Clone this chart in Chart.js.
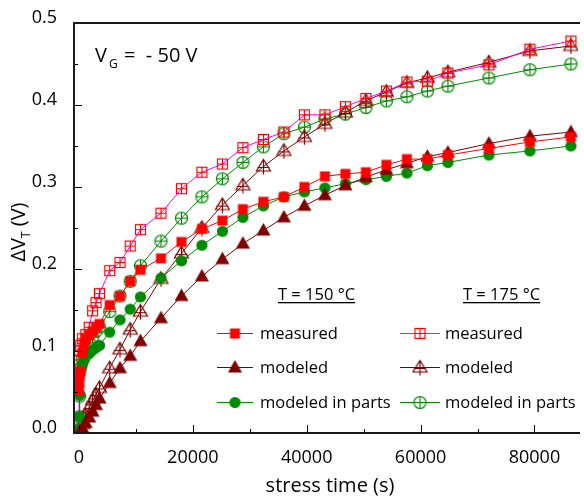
<!DOCTYPE html>
<html>
<head>
<meta charset="utf-8">
<script src="https://cdn.jsdelivr.net/npm/chart.js@4.4.0/dist/chart.umd.min.js"></script>
<style>
  html, body { margin: 0; padding: 0; background: #fff; overflow: hidden; }
  #wrap { position: relative; width: 584px; height: 498px; }
</style>
</head>
<body>
<div id="wrap"><canvas id="chart" width="584" height="498"></canvas></div>
<script>
// stress times (s) and threshold shift (V)
// T = 150 °C
var tMeas150 = [0, 60, 120, 300, 600, 900, 1200, 1800, 2400, 3000, 3600, 5400, 7200, 9000, 10800, 14400, 18000, 21600, 25200, 28800, 32400, 36000, 39600, 43200, 46800, 50400, 54000, 57600, 61200, 64800, 72000, 79200, 86400];
var vMeas150 = [0.052, 0.062, 0.070, 0.075, 0.098, 0.108, 0.115, 0.119, 0.124, 0.129, 0.133, 0.156, 0.167, 0.185, 0.199, 0.213, 0.233, 0.249, 0.259, 0.273, 0.282, 0.288, 0.300, 0.313, 0.316, 0.318, 0.327, 0.334, 0.334, 0.339, 0.347, 0.355, 0.361];

var tMod150 = [0, 600, 1200, 1800, 2400, 3000, 3600, 5400, 7200, 9000, 10800, 14400, 18000, 21600, 25200, 28800, 32400, 36000, 39600, 43200, 46800, 50400, 54000, 57600, 61200, 64800, 72000, 79200, 86400];
var vMod150 = [0, 0.006, 0.012, 0.019, 0.026, 0.034, 0.042, 0.061, 0.079, 0.094, 0.112, 0.140, 0.167, 0.191, 0.212, 0.231, 0.247, 0.263, 0.277, 0.290, 0.302, 0.312, 0.321, 0.329, 0.337, 0.342, 0.353, 0.362, 0.367];

var tParts150 = [0, 60, 120, 300, 600, 900, 1200, 1800, 2400, 3000, 3600, 5400, 7200, 9000, 10800, 14400, 18000, 21600, 25200, 28800, 32400, 36000, 39600, 43200, 46800, 50400, 54000, 57600, 61200, 64800, 72000, 79200, 86400];
var vParts150 = [0.005, 0.020, 0.046, 0.077, 0.084, 0.089, 0.093, 0.097, 0.101, 0.104, 0.107, 0.123, 0.138, 0.151, 0.166, 0.189, 0.210, 0.229, 0.246, 0.263, 0.277, 0.288, 0.294, 0.299, 0.304, 0.309, 0.313, 0.317, 0.326, 0.330, 0.339, 0.344, 0.350];

// T = 175 °C
var tMeas175 = [0, 60, 120, 300, 600, 1200, 1800, 2400, 3000, 3600, 5400, 7200, 9000, 10800, 14400, 18000, 21600, 25200, 28800, 32400, 36000, 39600, 43200, 46800, 50400, 54000, 57600, 61200, 64800, 72000, 79200, 86400];
var vMeas175 = [0.0, 0.089, 0.100, 0.107, 0.115, 0.120, 0.129, 0.149, 0.159, 0.170, 0.198, 0.208, 0.228, 0.248, 0.268, 0.298, 0.318, 0.328, 0.348, 0.358, 0.367, 0.388, 0.388, 0.398, 0.408, 0.417, 0.428, 0.429, 0.439, 0.449, 0.468, 0.478];

var tMod175 = [0, 600, 1200, 1800, 2400, 3000, 3600, 5400, 7200, 9000, 10800, 14400, 18000, 21600, 25200, 28800, 32400, 36000, 39600, 43200, 46800, 50400, 54000, 57600, 61200, 64800, 72000, 79200, 86400];
var vMod175 = [0, 0.011, 0.022, 0.031, 0.040, 0.047, 0.055, 0.079, 0.102, 0.126, 0.148, 0.188, 0.219, 0.250, 0.278, 0.302, 0.325, 0.344, 0.361, 0.377, 0.391, 0.405, 0.416, 0.427, 0.433, 0.440, 0.452, 0.466, 0.472];

var tParts175 = [0, 60, 120, 300, 600, 900, 1200, 1800, 2400, 3000, 3600, 5400, 7200, 9000, 10800, 14400, 18000, 21600, 25200, 28800, 32400, 36000, 39600, 43200, 46800, 50400, 54000, 57600, 61200, 64800, 72000, 79200, 86400];
var vParts175 = [0.005, 0.020, 0.045, 0.080, 0.090, 0.097, 0.103, 0.110, 0.117, 0.124, 0.129, 0.148, 0.167, 0.185, 0.204, 0.234, 0.262, 0.288, 0.310, 0.330, 0.349, 0.365, 0.373, 0.383, 0.389, 0.397, 0.405, 0.410, 0.417, 0.423, 0.433, 0.443, 0.450];

var seriesLabels = ["measured", "modeled", "modeled in parts"];
var groupLabels = ["T = 150 °C", "T = 175 °C"];

var xMajor = [0, 20000, 40000, 60000, 80000];
var xMinor = [10000, 30000, 50000, 70000];
var yMajor = [0, 0.1, 0.2, 0.3, 0.4, 0.5];
var yMinor = [0.05, 0.15, 0.25, 0.35, 0.45];

var FONT = "'Open Sans', 'Noto Sans', sans-serif";
var RED = "#ff0000", MAGENTA = "#ff00ff", DARKRED = "#800000", GREEN = "#008a00";

// marker images
function marker(kind, color) {
  var c = document.createElement("canvas");
  c.width = 17; c.height = 17;
  var g = c.getContext("2d");
  var m = 8.5;
  g.strokeStyle = color;
  g.fillStyle = color;
  g.lineWidth = 1.2;
  if (kind == "square") {
    g.fillRect(m - 5, m - 5, 10, 10);
  } else if (kind == "triangle") {
    g.beginPath();
    g.moveTo(m, m - 7.5);
    g.lineTo(m + 7, m + 5);
    g.lineTo(m - 7, m + 5);
    g.closePath();
    g.fill();
  } else if (kind == "circle") {
    g.beginPath();
    g.arc(m, m, 5.6, 0, Math.PI * 2);
    g.fill();
  } else if (kind == "squarePlus") {
    g.strokeRect(m - 5, m - 5, 10, 10);
    g.beginPath();
    g.moveTo(m - 5, m); g.lineTo(m + 5, m);
    g.moveTo(m, m - 5); g.lineTo(m, m + 5);
    g.stroke();
  } else if (kind == "trianglePlus") {
    g.beginPath();
    g.moveTo(m, m - 7);
    g.lineTo(m + 7, m + 4.5);
    g.lineTo(m - 7, m + 4.5);
    g.closePath();
    g.stroke();
    g.beginPath();
    g.moveTo(m, m - 7); g.lineTo(m, m + 8);
    g.moveTo(m - 6, m + 1); g.lineTo(m + 6, m + 1);
    g.stroke();
  } else if (kind == "circlePlus") {
    g.beginPath();
    g.arc(m, m, 6, 0, Math.PI * 2);
    g.stroke();
    g.beginPath();
    g.moveTo(m - 6, m); g.lineTo(m + 6, m);
    g.moveTo(m, m - 6); g.lineTo(m, m + 6);
    g.stroke();
  }
  return c;
}

function pts(t, v) {
  return t.map(function (x, i) { return { x: x, y: v[i] }; });
}

function series(t, v, lineColor, img) {
  return {
    data: pts(t, v),
    borderColor: lineColor,
    borderWidth: 1,
    pointStyle: img,
    pointRadius: 5,
    fill: false,
    tension: 0
  };
}

var markers150 = [marker("square", RED), marker("triangle", DARKRED), marker("circle", GREEN)];
var markers175 = [marker("squarePlus", RED), marker("trianglePlus", DARKRED), marker("circlePlus", GREEN)];
var lines150 = [RED, DARKRED, GREEN];
var lines175 = [MAGENTA, DARKRED, GREEN];

var datasets = [
  series(tMeas150, vMeas150, lines150[0], markers150[0]),
  series(tMod150, vMod150, lines150[1], markers150[1]),
  series(tParts150, vParts150, lines150[2], markers150[2]),
  series(tMeas175, vMeas175, lines175[0], markers175[0]),
  series(tMod175, vMod175, lines175[1], markers175[1]),
  series(tParts175, vParts175, lines175[2], markers175[2])
];

// frame, inward ticks, titles and the two-column legend
var decor = {
  id: "decor",
  afterDraw: function (chart) {
    var ctx = chart.ctx;
    var a = chart.chartArea;
    var xs = chart.scales.x, ys = chart.scales.y;
    ctx.save();
    ctx.strokeStyle = "#000";
    ctx.lineWidth = 1;
    ctx.beginPath();
    xMajor.forEach(function (v) {
      var p = Math.round(xs.getPixelForValue(v)) + 0.5;
      ctx.moveTo(p, a.bottom); ctx.lineTo(p, a.bottom - 8);
    });
    xMinor.forEach(function (v) {
      var p = Math.round(xs.getPixelForValue(v)) + 0.5;
      ctx.moveTo(p, a.bottom); ctx.lineTo(p, a.bottom - 4);
    });
    yMajor.forEach(function (v) {
      var p = Math.round(ys.getPixelForValue(v)) + 0.5;
      ctx.moveTo(a.left, p); ctx.lineTo(a.left + 8, p);
    });
    yMinor.forEach(function (v) {
      var p = Math.round(ys.getPixelForValue(v)) + 0.5;
      ctx.moveTo(a.left, p); ctx.lineTo(a.left + 4, p);
    });
    ctx.stroke();

    ctx.lineWidth = 2;
    ctx.strokeStyle = "#1a1a1a";
    ctx.beginPath();
    ctx.moveTo(a.right + 2, a.top);
    ctx.lineTo(a.left, a.top);
    ctx.lineTo(a.left, a.bottom);
    ctx.lineTo(a.right + 2, a.bottom);
    ctx.stroke();

    ctx.fillStyle = "#000";
    // x title
    ctx.font = "20px " + FONT;
    ctx.textAlign = "center";
    ctx.textBaseline = "alphabetic";
    ctx.fillText("stress time (s)", 330, 492);

    // y title
    ctx.save();
    ctx.translate(25, 232);
    ctx.rotate(-Math.PI / 2);
    ctx.textAlign = "left";
    var w1 = ctx.measureText("\u0394V").width;
    ctx.font = "12px " + FONT;
    var w2 = ctx.measureText("T").width;
    ctx.font = "20px " + FONT;
    var w3 = ctx.measureText(" (V)").width;
    var x0 = -(w1 + w2 + w3) / 2;
    ctx.fillText("\u0394V", x0, 0);
    ctx.font = "12px " + FONT;
    ctx.fillText("T", x0 + w1, 5);
    ctx.font = "20px " + FONT;
    ctx.fillText(" (V)", x0 + w1 + w2, 0);
    ctx.restore();

    // gate voltage note
    ctx.textAlign = "left";
    ctx.font = "20px " + FONT;
    ctx.fillText("V", 95, 62);
    ctx.font = "12px " + FONT;
    ctx.fillText("G", 109, 68);
    ctx.font = "20px " + FONT;
    ctx.fillText("=  - 50 V", 124, 62);

    // legend
    ctx.font = "16.5px " + FONT;
    var heads = [278, 463];
    groupLabels.forEach(function (s, i) {
      ctx.fillText(s, heads[i], 300);
      var w = ctx.measureText(s).width;
      ctx.fillRect(heads[i], 302, w, 1.3);
    });
    var rows = [333, 367, 402];
    var cols = [
      { x1: 217, x2: 253, tx: 260, lines: lines150, marks: markers150 },
      { x1: 400, x2: 440, tx: 445, lines: lines175, marks: markers175 }
    ];
    cols.forEach(function (c) {
      rows.forEach(function (y, r) {
        ctx.strokeStyle = c.lines[r];
        ctx.lineWidth = 1;
        ctx.beginPath();
        ctx.moveTo(c.x1, y + 0.5); ctx.lineTo(c.x2, y + 0.5);
        ctx.stroke();
        var img = c.marks[r];
        ctx.drawImage(img, (c.x1 + c.x2) / 2 - img.width / 2, y + 0.5 - img.height / 2);
        ctx.fillStyle = "#000";
        ctx.fillText(seriesLabels[r], c.tx, y + 6);
      });
    });
    ctx.restore();
  }
};

var chart = new Chart(document.getElementById("chart"), {
  type: "line",
  data: { datasets: datasets },
  options: {
    responsive: false,
    animation: false,
    devicePixelRatio: 1,
    layout: { padding: { top: 23, right: 0, left: 0, bottom: 0 } },
    plugins: { legend: { display: false }, tooltip: { enabled: false } },
    scales: {
      x: {
        type: "linear",
        min: -870,
        max: 87650,
        afterFit: function (s) { s.height = 65; },
        afterBuildTicks: function (s) { s.ticks = xMajor.map(function (v) { return { value: v }; }); },
        grid: { display: false },
        border: { display: false },
        ticks: {
          autoSkip: false, maxRotation: 0, padding: 6, color: "#000",
          font: { family: FONT, size: 18 },
          callback: function (v) { return String(v); }
        }
      },
      y: {
        type: "linear",
        min: 0,
        max: 0.5,
        afterFit: function (s) { s.width = 74; },
        afterBuildTicks: function (s) { s.ticks = yMajor.map(function (v) { return { value: v }; }); },
        grid: { display: false },
        border: { display: false },
        ticks: {
          padding: 9, color: "#000", labelOffset: -5,
          font: { family: FONT, size: 18 },
          callback: function (v) { return Number(v).toFixed(1); }
        }
      }
    }
  },
  plugins: [decor]
});
</script>
</body>
</html>
